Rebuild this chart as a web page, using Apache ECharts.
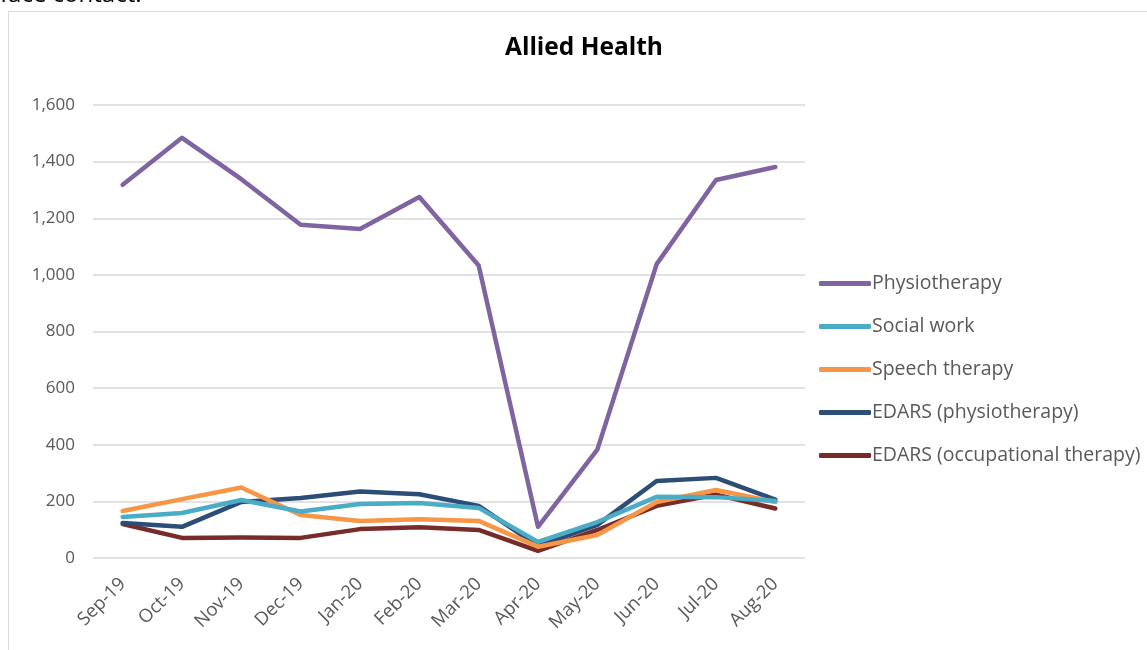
<!DOCTYPE html>
<html>
<head>
<meta charset="utf-8">
<script src="https://cdn.jsdelivr.net/npm/echarts@6/dist/echarts.min.js"></script>
<style>
html,body{margin:0;padding:0;background:#fff;}
#chart{width:1147px;height:650px;}
</style>
</head>
<body>
<div id="chart"></div>
<script>
const categories = ['Sep-19','Oct-19','Nov-19','Dec-19','Jan-20','Feb-20','Mar-20','Apr-20','May-20','Jun-20','Jul-20','Aug-20'];
const physiotherapy = [1318, 1484, 1338, 1177, 1162, 1275, 1033, 110, 383, 1038, 1335, 1381];
const socialWork = [145, 159, 205, 164, 191, 194, 177, 57, 127, 216, 215, 201];
const speechTherapy = [166, 208, 249, 152, 131, 137, 131, 40, 81, 198, 240, 198];
const edarsPhysio = [124, 110, 198, 212, 235, 225, 184, 42, 117, 272, 283, 206];
const edarsOT = [120, 71, 72, 71, 102, 109, 99, 25, 99, 184, 224, 175];
const yTicks = [0, 200, 400, 600, 800, 1000, 1200, 1400, 1600];

const names = ['Physiotherapy','Social work','Speech therapy','EDARS (physiotherapy)','EDARS (occupational therapy)'];
const colors = ['#8064A2','#4BACC6','#F79646','#2C4D75','#772C2A'];
const datas = [physiotherapy, socialWork, speechTherapy, edarsPhysio, edarsOT];

const font = '"Open Sans", "Liberation Sans", sans-serif';
const chart = echarts.init(document.getElementById('chart'));
chart.setOption({
  animation: false,
  textStyle: { fontFamily: font },
  title: {
    text: 'Allied Health',
    left: 500, top: 31,
    textStyle: { fontFamily: font, fontSize: 24.5, fontWeight: 'bold', color: '#000' }
  },
  graphic: [
    { type: 'rect', shape: { x: 8.5, y: 11.5, width: 1300, height: 800 },
      style: { fill: 'none', stroke: '#d9d9d9', lineWidth: 1 }, silent: true },
    { type: 'text', left: 0, top: -17,
      style: { text: 'face contact.', font: '24px ' + font, fill: '#000' } }
  ],
  legend: {
    orient: 'vertical',
    left: 814, top: 267,
    icon: 'roundRect',
    itemWidth: 52, itemHeight: 5,
    itemGap: 20,
    textStyle: { fontFamily: font, fontSize: 19.5, color: '#595959', padding: [0,0,0,-4], lineHeight: 23 },
    data: names
  },
  grid: { left: 93, right: 342, top: 105, bottom: 92 },
  xAxis: {
    type: 'category',
    data: categories,
    boundaryGap: true,
    axisLine: { show: false },
    axisTick: { show: false },
    axisLabel: { rotate: 45, fontSize: 18.5, color: '#595959', margin: 23, interval: 0, fontFamily: font }
  },
  yAxis: {
    type: 'value',
    min: yTicks[0], max: yTicks[yTicks.length-1], interval: 200,
    axisLine: { show: false },
    axisTick: { show: false },
    splitLine: { lineStyle: { color: '#d9d9d9', width: 1.5 } },
    axisLabel: {
      fontSize: 17, color: '#595959', margin: 18, fontFamily: font,
      formatter: v => v.toLocaleString('en-US')
    }
  },
  series: datas.map((d, i) => ({
    name: names[i],
    type: 'line',
    data: d,
    symbol: 'none',
    lineStyle: { color: colors[i], width: 4.5, cap: 'round', join: 'round' },
    itemStyle: { color: colors[i] },
    z: 10 - i
  }))
});
</script>
</body>
</html>
